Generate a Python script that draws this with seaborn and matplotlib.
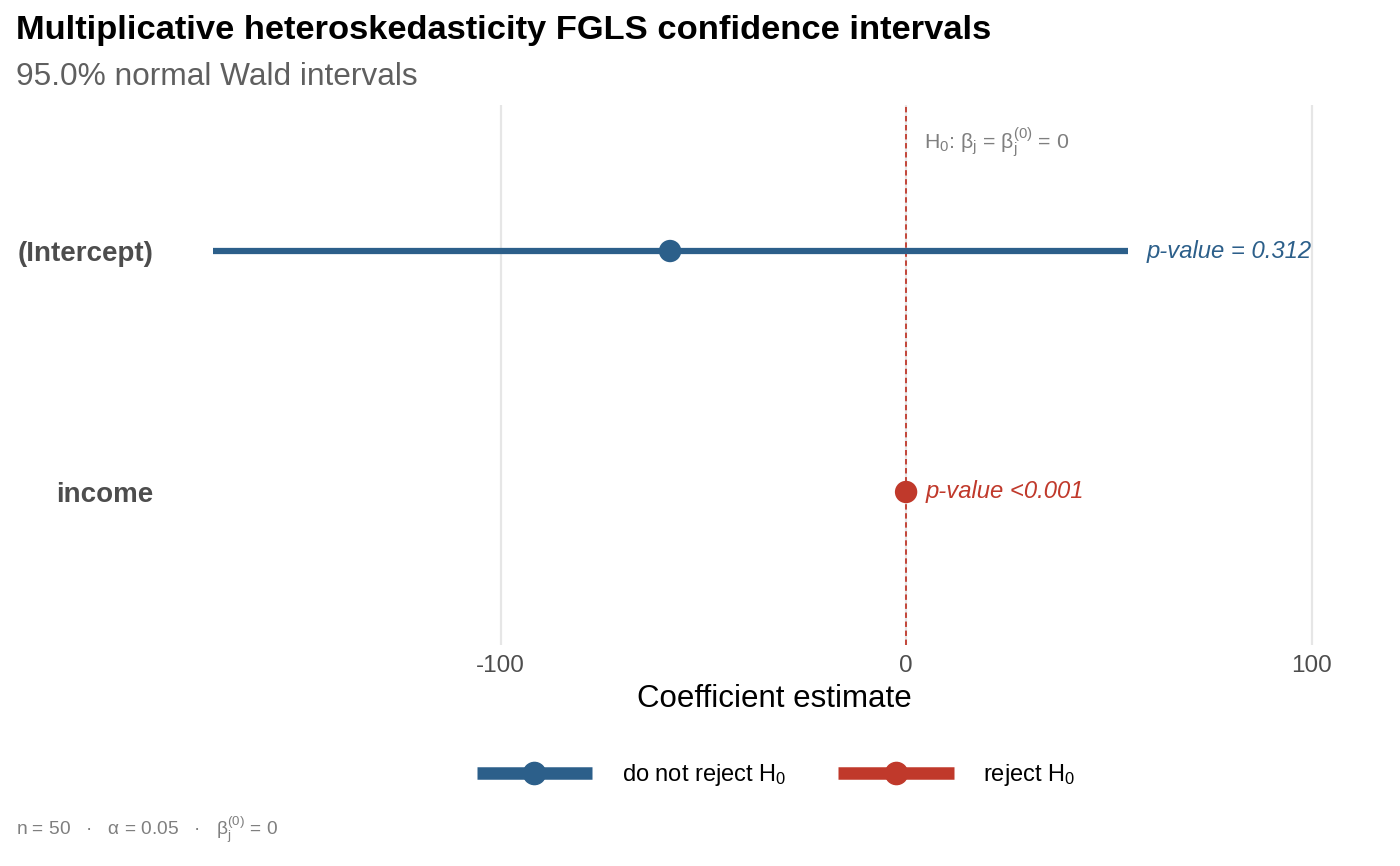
"""
FGLS confidence interval plot (multiplicative heteroskedasticity)
"""

import numpy as np
import pandas as pd
import matplotlib
matplotlib.use('Agg')
import matplotlib.pyplot as plt
from matplotlib.lines import Line2D
import seaborn as sns

# data
terms = ['(Intercept)', 'income']
estimates = [-58.2, 0.0]
ci_low = [-170.9, -0.4]
ci_high = [54.7, 0.4]
p_labels = ['p-value = 0.312', 'p-value <0.001']
decisions = ['do not reject H$_0$', 'reject H$_0$']
x_ticks = [-100, 0, 100]

BLUE = '#2c5f8a'
RED = '#c0392b'
palette = {'do not reject H$_0$': BLUE, 'reject H$_0$': RED}

sns.set_theme(style='white')
plt.rcParams['font.family'] = ['Liberation Sans', 'DejaVu Sans']
plt.rcParams['mathtext.fontset'] = 'custom'
plt.rcParams['mathtext.rm'] = 'Liberation Sans'
plt.rcParams['mathtext.it'] = 'Liberation Sans:italic'
plt.rcParams['mathtext.bf'] = 'Liberation Sans:bold'
plt.rcParams['text.color'] = 'black'

df = pd.DataFrame({
    'term': terms,
    'estimate': estimates,
    'low': ci_low,
    'high': ci_high,
    'decision': decisions,
    'plabel': p_labels,
})
df['ypos'] = np.arange(len(df))[::-1] + 1

fig = plt.figure(figsize=(14, 8.66), dpi=100)
ax = fig.add_axes([164 / 1400, 1 - 645 / 866, 1221 / 1400, 540 / 866])

# grid
for xt in x_ticks:
    ax.axvline(xt, color='#e6e6e6', lw=1.6, zorder=0)

# null line
ax.axvline(0, color=RED, lw=1.3, ls=(0, (3, 2)), zorder=1)

# intervals
for _, r in df.iterrows():
    ax.hlines(r['ypos'], r['low'], r['high'], color=palette[r['decision']], lw=4.5, zorder=2)

sns.scatterplot(data=df, x='estimate', y='ypos', hue='decision', palette=palette,
                s=260, edgecolor='none', legend=False, ax=ax, zorder=3)

# p-value labels
for _, r in df.iterrows():
    ax.text(r['high'] + 4.5, r['ypos'], r['plabel'], color=palette[r['decision']],
            style='italic', fontsize=17.2, va='center', ha='left')

ax.text(4.3, 2.45, 'H$_0$: β$_\\mathrm{j}$ = β$_\\mathrm{j}^{(0)}$ = 0', color='#7f7f7f',
        fontsize=15.3, va='center', ha='left')

ax.set_xlim(-183.0, 118.1)
ax.set_ylim(0.365, 2.606)
ax.set_xticks(x_ticks)
ax.set_xticklabels(['-100', '0', '100'], fontsize=17.5, color='#4d4d4d')
ax.set_yticks(df['ypos'])
ax.set_yticklabels(df['term'], fontsize=20, fontweight='bold', color='#4d4d4d')
ax.tick_params(axis='both', length=0, pad=7)
ax.tick_params(axis='y', pad=7.5)
ax.set_xlabel('Coefficient estimate', fontsize=22.5, color='black', labelpad=5.5)
ax.set_ylabel('')
for s in ax.spines.values():
    s.set_visible(False)

# titles
fig.text(16 / 1400, 1 - 30 / 866, 'Multiplicative heteroskedasticity FGLS confidence intervals',
         fontsize=24.8, fontweight='bold', color='black', va='center', ha='left')
fig.text(16 / 1400, 1 - 77 / 866, '95.0% normal Wald intervals',
         fontsize=22.8, color='#5f5f5f', va='center', ha='left')

# legend
handles = [Line2D([0], [0], color=palette[d], lw=9, marker='o', markersize=16,
                  solid_capstyle='butt') for d in decisions]
fig.legend(handles, decisions, loc='center', bbox_to_anchor=(776 / 1400, 1 - 775 / 866),
           ncol=2, frameon=False, fontsize=17, handlelength=4.9, handletextpad=1.25,
           columnspacing=2.2)

# caption
fig.text(16 / 1400, 1 - 830 / 866,
         'n = 50   ·   α = 0.05   ·   β$_\\mathrm{j}^{(0)}$ = 0',
         fontsize=13.8, color='#7f7f7f', va='center', ha='left')

fig.savefig('out.png', dpi=100)
